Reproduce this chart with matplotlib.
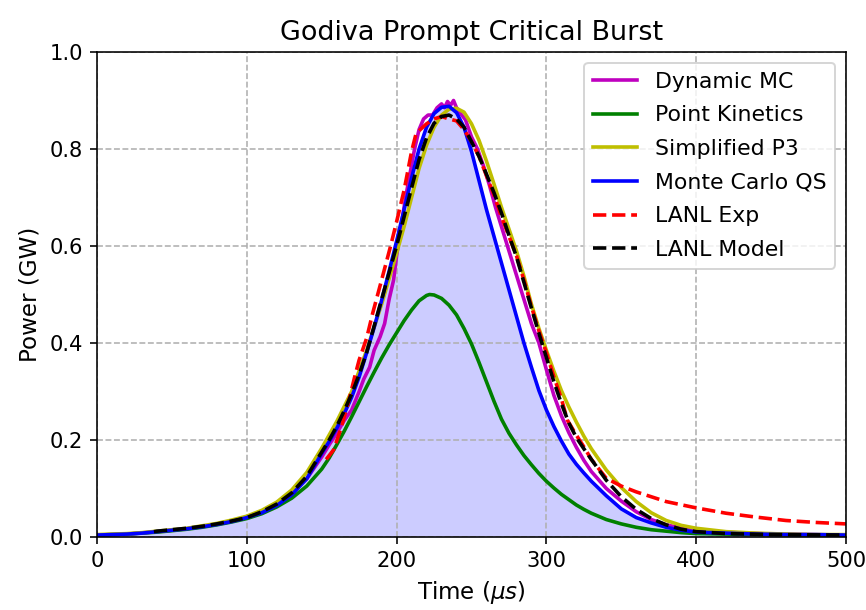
import matplotlib
matplotlib.use("Agg")
import matplotlib.pyplot as plt

# ---- data ----
t_pk = [0, 10, 20, 30, 40, 50, 60, 70, 80, 90, 100, 110, 120, 130, 140, 150, 155, 160, 165, 170, 175,
        180, 185, 190, 195, 200, 205, 210, 215, 220, 222, 225, 230, 235, 240, 245, 250, 255, 260, 265,
        270, 275, 280, 285, 290, 295, 300, 305, 310, 315, 320, 325, 330, 340, 350, 360, 370, 380, 390,
        400, 420, 440, 460, 480, 500]
p_pk = [0.004, 0.005, 0.006, 0.008, 0.010, 0.013, 0.016, 0.020, 0.025, 0.031, 0.038, 0.048, 0.062, 0.080,
        0.105, 0.140, 0.163, 0.190, 0.218, 0.248, 0.279, 0.310, 0.340, 0.369, 0.396, 0.421, 0.446, 0.468,
        0.487, 0.498, 0.500, 0.499, 0.492, 0.478, 0.458, 0.430, 0.398, 0.360, 0.320, 0.280, 0.243, 0.214,
        0.190, 0.168, 0.149, 0.131, 0.115, 0.101, 0.088, 0.077, 0.066, 0.057, 0.049, 0.036, 0.027, 0.020,
        0.015, 0.012, 0.009, 0.007, 0.006, 0.005, 0.005, 0.004, 0.004]

t_p3 = [0, 10, 20, 30, 40, 50, 60, 70, 80, 90, 100, 110, 120, 130, 140, 150, 160, 170, 180, 190, 200,
        205, 210, 215, 220, 225, 230, 235, 240, 245, 250, 255, 260, 265, 270, 275, 280, 285, 290, 295,
        300, 305, 310, 315, 320, 325, 330, 340, 350, 360, 370, 380, 390, 400, 420, 440, 460, 480, 500]
p_p3 = [0.005, 0.006, 0.007, 0.009, 0.012, 0.015, 0.018, 0.023, 0.028, 0.035, 0.043, 0.055, 0.072, 0.097,
        0.133, 0.183, 0.238, 0.300, 0.385, 0.480, 0.585, 0.640, 0.700, 0.760, 0.808, 0.845, 0.870, 0.882,
        0.884, 0.876, 0.852, 0.818, 0.775, 0.728, 0.680, 0.635, 0.590, 0.538, 0.480, 0.430, 0.385, 0.342,
        0.302, 0.268, 0.237, 0.208, 0.182, 0.138, 0.102, 0.073, 0.050, 0.034, 0.024, 0.018, 0.011, 0.008,
        0.006, 0.005, 0.005]

t_qs = [0, 10, 20, 30, 40, 50, 60, 70, 80, 90, 100, 110, 120, 130, 140, 150, 155, 160, 165, 170, 175,
        180, 185, 190, 195, 200, 205, 210, 215, 220, 225, 230, 235, 240, 245, 250, 255, 260, 265, 270,
        275, 280, 285, 290, 295, 300, 305, 310, 315, 320, 325, 330, 340, 350, 360, 370, 380, 390, 400,
        420, 440, 460, 480, 500]
p_qs = [0.004, 0.005, 0.006, 0.008, 0.011, 0.014, 0.017, 0.021, 0.026, 0.032, 0.040, 0.050, 0.065, 0.087,
        0.120, 0.172, 0.197, 0.224, 0.254, 0.288, 0.330, 0.380, 0.432, 0.488, 0.548, 0.610, 0.675, 0.740,
        0.800, 0.845, 0.873, 0.886, 0.888, 0.875, 0.845, 0.795, 0.735, 0.675, 0.620, 0.565, 0.510, 0.455,
        0.400, 0.350, 0.302, 0.262, 0.228, 0.198, 0.171, 0.150, 0.132, 0.115, 0.085, 0.058, 0.040, 0.029,
        0.020, 0.014, 0.010, 0.008, 0.006, 0.005, 0.005, 0.004]

t_mc = [0, 20, 40, 60, 80, 100, 120, 140, 150, 155, 160, 165, 170, 175, 178, 182, 185, 189, 192, 195,
        198, 200, 203, 206, 209, 212, 215, 218, 221, 224, 227, 230, 232, 234, 236, 238, 240, 243, 246,
        250, 254, 258, 262, 266, 270, 274, 278, 282, 286, 290, 295, 300, 305, 310, 315, 320, 325, 330,
        340, 350, 360, 370, 380, 400, 450, 500]
p_mc = [0.004, 0.006, 0.011, 0.017, 0.026, 0.040, 0.065, 0.120, 0.165, 0.190, 0.214, 0.240, 0.262, 0.300,
        0.325, 0.350, 0.385, 0.413, 0.440, 0.490, 0.530, 0.580, 0.640, 0.700, 0.750, 0.800, 0.840, 0.862,
        0.870, 0.870, 0.885, 0.893, 0.885, 0.898, 0.890, 0.900, 0.885, 0.872, 0.860, 0.825, 0.800, 0.765,
        0.725, 0.680, 0.640, 0.600, 0.560, 0.520, 0.480, 0.440, 0.400, 0.345, 0.292, 0.250, 0.215, 0.185,
        0.158, 0.135, 0.100, 0.074, 0.052, 0.036, 0.025, 0.012, 0.006, 0.004]

t_exp = [153, 158, 163, 168, 172, 175, 180, 184, 190, 196, 200, 205, 210, 213, 220, 225, 230, 235, 240,
         245, 250, 255, 260, 265, 270, 275, 280, 285, 290, 295, 300, 305, 310, 314, 320, 325, 330, 340,
         350, 360, 380, 400, 420, 440, 460, 480, 500]
p_exp = [0.160, 0.180, 0.225, 0.280, 0.330, 0.365, 0.410, 0.461, 0.530, 0.600, 0.650, 0.715, 0.795, 0.832,
         0.852, 0.862, 0.867, 0.862, 0.858, 0.840, 0.815, 0.785, 0.745, 0.705, 0.660, 0.620, 0.580, 0.530,
         0.475, 0.425, 0.380, 0.330, 0.285, 0.241, 0.210, 0.186, 0.160, 0.121, 0.105, 0.093, 0.073, 0.060,
         0.049, 0.041, 0.034, 0.030, 0.027]

t_mod = [38, 40, 50, 60, 70, 80, 90, 100, 110, 120, 130, 140, 150, 155, 160, 165, 170, 175, 180, 185,
         190, 195, 200, 205, 210, 215, 220, 225, 230, 235, 240, 245, 250, 255, 260, 265, 270, 275, 280,
         285, 290, 295, 300, 305, 310, 315, 320, 325, 330, 340, 350, 360, 370, 380, 390, 400, 420, 450, 500]
p_mod = [0.011, 0.012, 0.015, 0.018, 0.022, 0.027, 0.033, 0.040, 0.052, 0.068, 0.091, 0.125, 0.175, 0.200,
         0.228, 0.260, 0.295, 0.335, 0.380, 0.435, 0.490, 0.545, 0.600, 0.660, 0.720, 0.778, 0.823, 0.853,
         0.867, 0.870, 0.862, 0.845, 0.815, 0.785, 0.748, 0.710, 0.668, 0.622, 0.578, 0.525, 0.472, 0.420,
         0.370, 0.320, 0.275, 0.235, 0.205, 0.182, 0.160, 0.117, 0.083, 0.057, 0.038, 0.025, 0.016, 0.011,
         0.007, 0.005, 0.004]

labels = ["Dynamic MC", "Point Kinetics", "Simplified P3", "Monte Carlo QS", "LANL Exp", "LANL Model"]

# ---- plot ----
fig = plt.figure(figsize=(866 / 144, 610 / 144), dpi=144)
ax = fig.add_axes([97 / 866, 1 - 537 / 610, (846 - 97) / 866, (537 - 52) / 610])

ax.fill_between(t_qs, p_qs, color="b", alpha=0.2, linewidth=0)
ax.plot(t_mc, p_mc, color="m", lw=1.8, label=labels[0])
ax.plot(t_pk, p_pk, color="g", lw=1.8, label=labels[1])
ax.plot(t_p3, p_p3, color="y", lw=1.8, label=labels[2])
ax.plot(t_qs, p_qs, color="b", lw=1.8, label=labels[3])
ax.plot(t_exp, p_exp, color="r", lw=1.8, ls="--", label=labels[4])
ax.plot(t_mod, p_mod, color="k", lw=1.8, ls="--", label=labels[5])

ax.set_xlim(0, 500)
ax.set_ylim(0, 1.0)
ax.set_xticks([0, 100, 200, 300, 400, 500])
ax.set_yticks([0.0, 0.2, 0.4, 0.6, 0.8, 1.0])
ax.tick_params(labelsize=10.5)
ax.grid(True, linestyle="--")
ax.set_xlabel(r"Time ($\mu s$)", fontsize=11.5)
ax.set_ylabel("Power (GW)", fontsize=11.5)
ax.set_title("Godiva Prompt Critical Burst", fontsize=13.5)
ax.legend(loc="upper right", fontsize=11, labelspacing=0.62)

fig.savefig("out.png", dpi=144)
